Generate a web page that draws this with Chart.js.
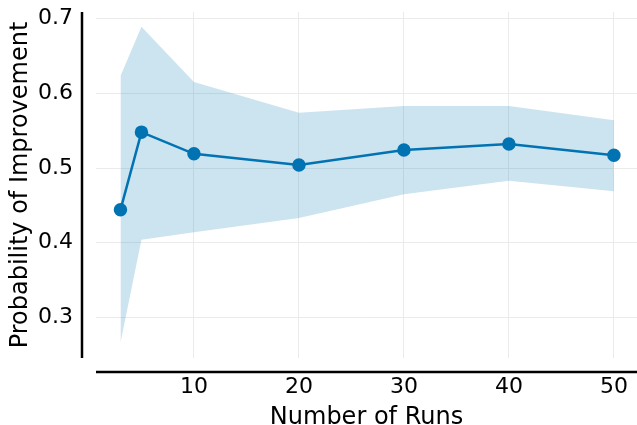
<!DOCTYPE html>
<html>
<head>
<meta charset="utf-8">
<script src="https://cdn.jsdelivr.net/npm/chart.js@4.4.1/dist/chart.umd.min.js"></script>
<style>
html, body { margin: 0; padding: 0; background: #fff; overflow: hidden; }
canvas { display: block; }
</style>
</head>
<body>
<canvas id="canvas" width="637" height="425"></canvas>
<script>
var runs = [3, 5, 10, 20, 30, 40, 50];
var meanProb = [0.444, 0.548, 0.519, 0.504, 0.524, 0.532, 0.517];
var upperProb = [0.623, 0.689, 0.615, 0.574, 0.583, 0.583, 0.564];
var lowerProb = [0.266, 0.404, 0.414, 0.433, 0.465, 0.483, 0.469];
var xTicks = [10, 20, 30, 40, 50];
var yTicks = [0.3, 0.4, 0.5, 0.6, 0.7];

function pts(vals) {
    return runs.map(function (r, i) { return { x: r, y: vals[i] }; });
}

var blue = '#0173b2';
var tickFont = { family: 'DejaVu Sans', size: 22 };
var titleFont = { family: 'DejaVu Sans', size: 24 };

// despined axes drawn a little away from the plot area
var offsetSpines = {
    id: 'offsetSpines',
    afterDraw: function (chart) {
        var ctx = chart.ctx, a = chart.chartArea;
        ctx.save();
        ctx.strokeStyle = '#000';
        ctx.lineWidth = 2.5;
        ctx.beginPath();
        ctx.moveTo(a.left - 14, a.top);
        ctx.lineTo(a.left - 14, a.bottom);
        ctx.moveTo(a.left, a.bottom + 14);
        ctx.lineTo(a.right, a.bottom + 14);
        ctx.stroke();
        ctx.restore();
    }
};

var ctx = document.getElementById('canvas').getContext('2d');
var myChart = new Chart(ctx, {
    type: 'line',
    data: {
        datasets: [{
            label: 'mean',
            data: pts(meanProb),
            borderColor: blue,
            backgroundColor: blue,
            borderWidth: 2.5,
            pointRadius: 5.5,
            pointHoverRadius: 5.5,
            fill: false
        }, {
            label: 'lower',
            data: pts(lowerProb),
            borderColor: 'transparent',
            borderWidth: 0,
            pointRadius: 0,
            fill: false
        }, {
            label: 'upper',
            data: pts(upperProb),
            borderColor: 'transparent',
            backgroundColor: 'rgba(1,115,178,0.2)',
            borderWidth: 0,
            pointRadius: 0,
            fill: 1
        }]
    },
    options: {
        responsive: false,
        animation: false,
        layout: { autoPadding: false, padding: { top: 12, right: 0, left: 0, bottom: 0 } },
        plugins: {
            legend: { display: false },
            tooltip: { enabled: false }
        },
        scales: {
            x: {
                type: 'linear',
                min: 0.67,
                max: 52.2,
                afterBuildTicks: function (s) { s.ticks = xTicks.map(function (v) { return { value: v }; }); },
                afterFit: function (s) { s.height = 67; s.paddingLeft = 0; s.paddingRight = 0; },
                grid: { color: '#ebebeb', lineWidth: 1, drawTicks: false },
                border: { display: false },
                ticks: { font: tickFont, color: '#000', padding: 16, maxRotation: 0 },
                title: { display: true, text: 'Number of Runs', font: titleFont, color: '#000', padding: { top: 0, bottom: -7 } }
            },
            y: {
                min: 0.2457,
                max: 0.7088,
                afterBuildTicks: function (s) { s.ticks = yTicks.map(function (v) { return { value: v }; }); },
                afterFit: function (s) { s.width = 96; s.paddingTop = 0; s.paddingBottom = 0; },
                grid: { color: '#ebebeb', lineWidth: 1, drawTicks: false },
                border: { display: false },
                ticks: { font: tickFont, color: '#000', padding: 23, callback: function (v) { return v.toFixed(1); } },
                title: { display: true, text: 'Probability of Improvement', font: titleFont, color: '#000', padding: { top: 6, bottom: 0 } }
            }
        }
    },
    plugins: [offsetSpines]
});
</script>
</body>
</html>
